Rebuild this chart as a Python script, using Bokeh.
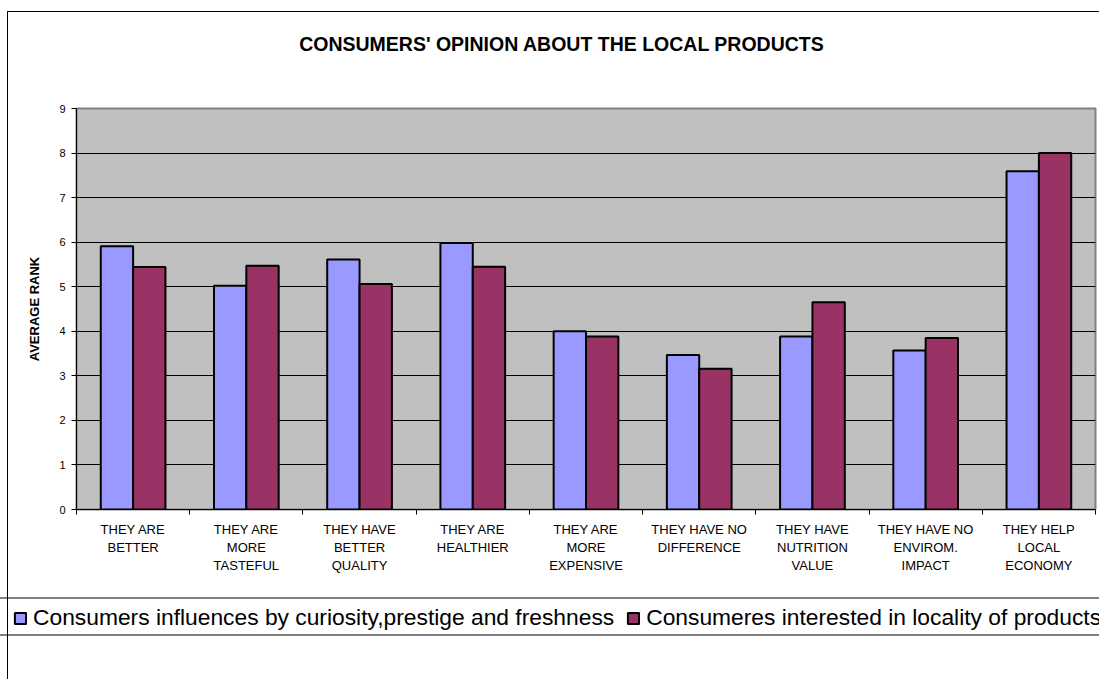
from bokeh.plotting import figure
from bokeh.layouts import column
from bokeh.models import (ColumnDataSource, Range1d, FixedTicker, Legend, LegendItem,
                          InlineStyleSheet, LinearAxis)
from bokeh.transform import dodge
from bokeh.embed import file_html
from bokeh.resources import INLINE

categories = ["THEY ARE\nBETTER", "THEY ARE\nMORE\nTASTEFUL", "THEY HAVE\nBETTER\nQUALITY",
              "THEY ARE\nHEALTHIER", "THEY ARE\nMORE\nEXPENSIVE", "THEY HAVE NO\nDIFFERENCE",
              "THEY HAVE\nNUTRITION\nVALUE", "THEY HAVE NO\nENVIROM.\nIMPACT",
              "THEY HELP\nLOCAL\nECONOMY"]
curiosity = [5.91, 5.02, 5.61, 5.98, 4.00, 3.47, 3.88, 3.57, 7.59]
locality = [5.44, 5.47, 5.06, 5.45, 3.88, 3.16, 4.65, 3.85, 8.00]
y_ticks = [0, 1, 2, 3, 4, 5, 6, 7, 8, 9]
series_names = ["Consumers influences by curiosity,prestige and freshness",
                "Consumeres interested in locality of products"]
series_colors = ["#9999FF", "#993366"]
title_text = "CONSUMERS' OPINION ABOUT THE LOCAL PRODUCTS"
y_label = "AVERAGE RANK"

FONT = "Liberation Sans"
n = len(categories)
pos = [i + 0.5 for i in range(n)]
src = ColumnDataSource(dict(pos=pos, a=curiosity, b=locality))

p = figure(width=1099, height=580, x_range=Range1d(0, n), y_range=Range1d(0, 9),
           output_backend="svg", toolbar_location=None,
           min_border_left=76, min_border_right=4, min_border_top=108, min_border_bottom=71,
           background_fill_color="#C0C0C0", border_fill_color="white")

p.outline_line_color = "#808080"
p.outline_line_width = 2

# y axis
p.yaxis.ticker = FixedTicker(ticks=y_ticks)
p.yaxis.axis_line_color = "black"
p.yaxis.major_tick_out = 5
p.yaxis.major_tick_in = 0
p.yaxis.minor_tick_line_color = None
p.yaxis.major_label_text_font = FONT
p.yaxis.major_label_text_font_size = "11px"
p.yaxis.major_label_text_color = "black"
p.yaxis.major_label_standoff = 6
p.yaxis.axis_label = y_label
p.yaxis.axis_label_text_font = FONT
p.yaxis.axis_label_text_font_size = "13px"
p.yaxis.axis_label_text_font_style = "bold"
p.yaxis.axis_label_text_color = "black"
p.yaxis.axis_label_standoff = 14

# x axis: labels at centres, ticks at boundaries
xa = p.below[0]
xa.ticker = FixedTicker(ticks=pos, minor_ticks=list(range(n + 1)))
xa.major_label_overrides = {pv: c for pv, c in zip(pos, categories)}
xa.axis_line_color = "black"
xa.major_tick_out = 0
xa.major_tick_in = 0
xa.minor_tick_out = 5
xa.minor_tick_in = 0
xa.minor_tick_line_color = "black"
xa.major_label_text_font = FONT
xa.major_label_text_font_size = "13px"
xa.major_label_text_color = "black"
xa.major_label_text_line_height = 1.2
xa.major_label_standoff = 7

# chart title, centred on the (wider) chart area
title_x = 4.288
title_axis = LinearAxis(ticker=FixedTicker(ticks=[title_x], minor_ticks=[]),
                        major_label_overrides={title_x: title_text},
                        axis_line_color=None, major_tick_line_color=None,
                        minor_tick_line_color=None, major_tick_out=0, minor_tick_out=0,
                        major_tick_in=0, minor_tick_in=0,
                        major_label_standoff=54,
                        major_label_text_font=FONT, major_label_text_font_size="19.5px",
                        major_label_text_font_style="bold", major_label_text_color="black")
p.add_layout(title_axis, "above")

p.xgrid.visible = False
p.ygrid.ticker = FixedTicker(ticks=y_ticks[1:-1])
p.ygrid.grid_line_color = "black"
p.ygrid.grid_line_width = 1

bw = 1 / 3.5
r1 = p.vbar(x=dodge("pos", -bw / 2, range=p.x_range), top="a", width=bw, source=src,
            fill_color=series_colors[0], line_color="black", line_width=2)
r2 = p.vbar(x=dodge("pos", bw / 2, range=p.x_range), top="b", width=bw, source=src,
            fill_color=series_colors[1], line_color="black", line_width=2)

# legend strip (separate canvas so the legend is not clipped by the plot frame)
p2 = figure(width=1099, height=99, x_range=Range1d(0, 1), y_range=Range1d(0, 1),
            output_backend="svg", toolbar_location=None,
            x_axis_location=None, y_axis_location=None, min_border=0,
            outline_line_color=None, background_fill_color="white",
            border_fill_color="white")
if "frame_align" in p2.properties():
    p2.frame_align = False
    p.frame_align = False
p2.grid.visible = False
d1 = p2.vbar(x="pos", top="a", width=bw, source=src, visible=False,
             fill_color=series_colors[0], line_color="black", line_width=2)
d2 = p2.vbar(x="pos", top="b", width=bw, source=src, visible=False,
             fill_color=series_colors[1], line_color="black", line_width=2)
legend = Legend(items=[LegendItem(label=series_names[0], renderers=[d1]),
                       LegendItem(label=series_names[1], renderers=[d2])],
                orientation="horizontal", location=(13, 48),
                border_line_color=None, background_fill_alpha=0,
                inactive_fill_alpha=0,
                padding=5, spacing=12, margin=0,
                label_text_font=FONT, label_text_font_size="22.8px",
                label_text_color="black",
                label_standoff=6, glyph_width=14, glyph_height=14)
p2.add_layout(legend, "center")

layout = column(p, p2, spacing=0)
layout.stylesheets = [InlineStyleSheet(css=(
    ":host { position: relative; }\n"
    ":host::after { content: ''; position: absolute; left: 7px; top: 11px; right: 0; bottom: 0;"
    " border-left: 1.5px solid black; border-top: 1.5px solid black;"
    " pointer-events: none; z-index: 10; }\n"
    ":host::before { content: ''; position: absolute; left: 0; right: 0; top: 597px;"
    " height: 39px; box-sizing: border-box; border-top: 2px solid #808080;"
    " border-bottom: 2px solid #808080; pointer-events: none; z-index: 9; }"))]

open("out.html", "w").write(file_html(layout, INLINE))
